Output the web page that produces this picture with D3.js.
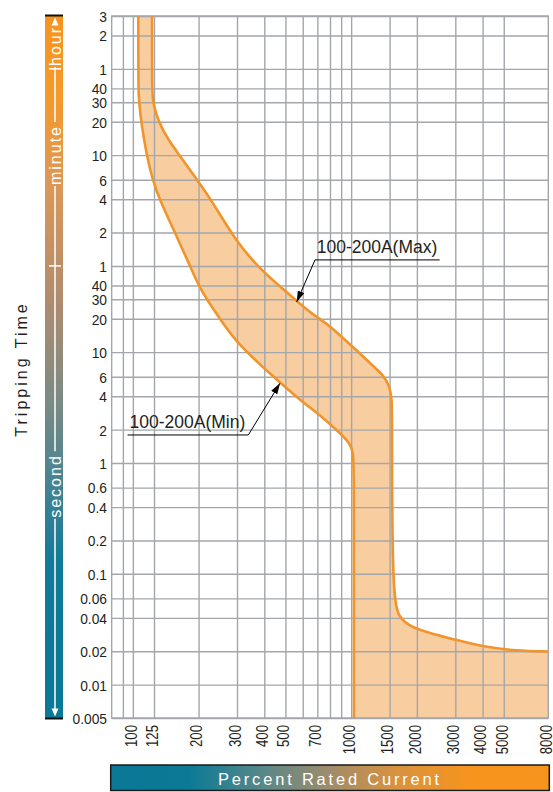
<!DOCTYPE html>
<html>
<head>
<meta charset="utf-8">
<script src="https://cdn.jsdelivr.net/npm/d3@7"></script>
<style>
    body { margin: 0; background: #fff; }
    svg { display: block; font-family: "Liberation Sans", Arial, sans-serif; }
</style>
</head>
<body>
<div class="trip-chart"></div>
<script>
// percent rated current (x) - labelled ticks and grid lines
var xTicks = [100, 125, 200, 300, 400, 500, 700, 1000, 1500, 2000, 3000, 4000, 5000, 8000];
var xGrid = [90, 100, 125, 200, 300, 400, 500, 600, 700, 800, 900, 1000, 1500, 2000, 3000, 4000, 5000];

// tripping time (y) in seconds, labels as printed on the chart
var yTickValues = [10800, 7200, 3600, 2400, 1800, 1200, 600, 360, 240, 120, 60,
    40, 30, 20, 10, 6, 4, 2, 1, 0.6, 0.4, 0.2, 0.1, 0.06, 0.04, 0.02, 0.01, 0.005];
var yTickLabels = ["3", "2", "1", "40", "30", "20", "10", "6", "4", "2", "1",
    "40", "30", "20", "10", "6", "4", "2", "1", "0.6", "0.4", "0.2", "0.1", "0.06", "0.04", "0.02", "0.01", "0.005"];

// hour / minute / second boundaries on the side bar
var unitBreaks = [3600, 60];
var unitNames = ["hour", "minute", "second"];

// [percent current, seconds]
var minCurve = [
    [105.9, 10800], [105.9, 2200], [107, 1787], [109, 1204], [115.8, 590], [123.3, 359],
    [132.2, 240], [156, 120], [182.7, 60], [200, 40], [218, 30], [250.7, 20],
    [300, 12], [440, 6], [583, 3.7], [720, 2.71], [889, 1.86], [988, 1.51], [1023, 1.22],
    [1030, 0.96], [1030, 0.005]
];
var maxCurve = [
    [122.4, 10800], [122.4, 2200], [123.7, 1777], [130.8, 1204], [145.3, 823], [164.4, 590],
    [196.7, 359], [228, 240], [300, 96], [400, 51.6], [500, 35.7], [600, 25.8], [700, 20.5],
    [800, 17.3], [1052, 10.5], [1220, 7.95], [1404, 6.23], [1506, 4.89], [1534, 3.7],
    [1540, 3.0], [1540, 0.058], [1674, 0.0383], [1996, 0.0311], [3041, 0.0253],
    [4016, 0.022], [5730, 0.0202], [8000, 0.0199]
];

var annotations = [
    {label: "100-200A(Max)", tip: [563, 28.4], elbow: [683, 68], side: "right"},
    {label: "100-200A(Min)", tip: [472, 5.24], elbow: [338, 1.79], side: "left"}
];

var W = 553, H = 792;
var margin = {top: 16, right: 4.7, bottom: 74, left: 111.7},
    width = W - margin.left - margin.right,
    height = H - margin.top - margin.bottom;

var gridColor = "#a3a7ab",
    curveColor = "#f0952c",
    fillColor = "#f8cd9f",
    textColor = "#231f20";

var svg = d3.select(".trip-chart").append("svg")
    .attr("width", W)
    .attr("height", H);

var defs = svg.append("defs");

var vgrad = defs.append("linearGradient").attr("id", "vgrad")
    .attr("x1", 0).attr("y1", 0).attr("x2", 0).attr("y2", 1);
[[0, "#f7941d"], [0.12, "#f49a2c"], [0.25, "#d9975a"], [0.4, "#b08c6e"],
    [0.55, "#7b8a84"], [0.66, "#4a8391"], [0.78, "#107a98"], [1, "#0a7896"]]
    .forEach(function (s) { vgrad.append("stop").attr("offset", s[0]).attr("stop-color", s[1]); });

var hgrad = defs.append("linearGradient").attr("id", "hgrad")
    .attr("x1", 0).attr("y1", 0).attr("x2", 1).attr("y2", 0);
[[0, "#0a7896"], [0.18, "#0c7a96"], [0.35, "#5a8888"], [0.5, "#a08c6a"],
    [0.65, "#d8923f"], [0.82, "#f7941d"], [1, "#f7941d"]]
    .forEach(function (s) { hgrad.append("stop").attr("offset", s[0]).attr("stop-color", s[1]); });

defs.append("marker").attr("id", "arrow")
    .attr("viewBox", "0 0 11 7").attr("refX", 11).attr("refY", 3.5)
    .attr("markerWidth", 11).attr("markerHeight", 7)
    .attr("markerUnits", "userSpaceOnUse").attr("orient", "auto")
    .append("path").attr("d", "M0,0L11,3.5L0,7Z").attr("fill", "#000");

var x = d3.scaleLog().domain([80, 8000]).range([0, width]);
var y = d3.scaleLog().domain([0.005, 10800]).range([height, 0]);

var g = svg.append("g")
    .attr("transform", "translate(" + margin.left + "," + margin.top + ")");

var line = d3.line()
    .x(function (d) { return x(d[0]); })
    .y(function (d) { return y(d[1]); })
    .curve(d3.curveBasis);

// band between the two curves, closed along the bottom and right edge
var last = maxCurve[maxCurve.length - 1];
var bandPath = line(minCurve) +
    "L" + x(last[0]) + "," + y(0.005) +
    line(maxCurve.slice().reverse()).replace(/^M/, "L") + "Z";

g.append("path")
    .attr("d", bandPath)
    .attr("fill", fillColor);

// grid
g.append("g")
    .attr("class", "grid-x")
    .attr("transform", "translate(0," + height + ")")
    .call(d3.axisBottom(x).tickValues(xGrid).tickSize(-height).tickFormat(""))
    .call(function (a) { a.select(".domain").remove(); })
    .selectAll("line").attr("stroke", gridColor).attr("stroke-width", 1.4);

var yAxis = g.append("g")
    .attr("class", "axis-y")
    .call(d3.axisLeft(y).tickValues(yTickValues)
        .tickFormat(function (d, i) { return yTickLabels[i]; })
        .tickSize(-width).tickPadding(5.1));
yAxis.select(".domain").remove();
yAxis.selectAll("line").attr("stroke", gridColor).attr("stroke-width", 1.4);
yAxis.selectAll("text")
    .attr("fill", textColor)
    .attr("font-size", 15)
    .attr("font-family", "Liberation Sans, Arial, sans-serif")
    .attr("dy", "0.36em")
    .attr("transform", "scale(0.92,1)");

g.append("rect")
    .attr("width", width).attr("height", height)
    .attr("fill", "none").attr("stroke", gridColor).attr("stroke-width", 1.4);

// curves
[minCurve, maxCurve].forEach(function (c) {
    g.append("path")
        .attr("d", line(c))
        .attr("fill", "none")
        .attr("stroke", curveColor)
        .attr("stroke-width", 2.6);
});

// x labels
var xAxis = g.append("g")
    .attr("class", "axis-x")
    .attr("transform", "translate(0," + height + ")")
    .call(d3.axisBottom(x).tickValues(xTicks).tickSize(0).tickFormat(d3.format("d")));
xAxis.select(".domain").remove();
xAxis.selectAll("text")
    .attr("fill", textColor)
    .attr("font-size", 16.5)
    .attr("font-family", "Liberation Sans, Arial, sans-serif")
    .attr("text-anchor", "end")
    .attr("x", 0).attr("y", 0).attr("dy", "0.2em")
    .attr("transform", "translate(0,7) rotate(-90) scale(0.8,1)");

// curve labels with leader arrows
annotations.forEach(function (a) {
    var ex = x(a.elbow[0]), ey = y(a.elbow[1]);
    var t = g.append("text")
        .attr("y", ey - 6.7)
        .attr("font-size", 17.5)
        .attr("fill", textColor)
        .text(a.label);
    var len = t.node().getComputedTextLength();
    var x0, x1;
    if (a.side === "right") {
        t.attr("x", ex + 1.7);
        x0 = ex; x1 = ex + len + 4;
    } else {
        t.attr("x", ex - len - 3).attr("text-anchor", "start");
        x0 = ex - len - 5; x1 = ex;
    }
    g.append("line")
        .attr("x1", x0).attr("x2", x1).attr("y1", ey).attr("y2", ey)
        .attr("stroke", "#000").attr("stroke-width", 1);
    g.append("line")
        .attr("x1", ex).attr("y1", ey)
        .attr("x2", x(a.tip[0])).attr("y2", y(a.tip[1]))
        .attr("stroke", "#000").attr("stroke-width", 1)
        .attr("marker-end", "url(#arrow)");
});

// side bar: time units
var barX = 45, barW = 18, barTop = margin.top, barBot = margin.top + height;
svg.append("rect")
    .attr("x", barX).attr("y", barTop).attr("width", barW).attr("height", barBot - barTop)
    .attr("fill", "url(#vgrad)");
svg.append("rect").attr("x", barX).attr("y", barTop - 1.5).attr("width", barW).attr("height", 2).attr("fill", "#111");
svg.append("rect").attr("x", barX).attr("y", barBot - 0.5).attr("width", barW).attr("height", 2).attr("fill", "#111");

var cx = barX + barW / 2 + 1;
var unitCenters = [46, 155, 486];
var gaps = [];
unitNames.forEach(function (n, i) {
    var t = svg.append("text")
        .attr("transform", "translate(" + (barX + 15.5) + "," + unitCenters[i] + ") rotate(-90)")
        .attr("text-anchor", "middle")
        .attr("font-size", 16)
        .attr("letter-spacing", 2)
        .attr("fill", "#fff")
        .text(n);
    var len = t.node().getComputedTextLength();
    gaps.push([unitCenters[i] - len / 2 - 3, unitCenters[i] + len / 2 + 1]);
});

var segs = [[barTop + 8, gaps[0][0]], [gaps[0][1], gaps[1][0]], [gaps[1][1], gaps[2][0]], [gaps[2][1], barBot - 8]];
segs.forEach(function (s) {
    svg.append("line")
        .attr("x1", cx).attr("x2", cx).attr("y1", s[0]).attr("y2", s[1])
        .attr("stroke", "#fff").attr("stroke-width", 1.5);
});
svg.append("path")
    .attr("d", "M" + cx + "," + (barTop + 1.5) + "l-3.5,8h7Z")
    .attr("fill", "#fff");
svg.append("path")
    .attr("d", "M" + cx + "," + (barBot - 1.5) + "l-3.5,-8h7Z")
    .attr("fill", "#fff");
unitBreaks.forEach(function (b) {
    svg.append("line")
        .attr("x1", cx - 6).attr("x2", cx + 6)
        .attr("y1", margin.top + y(b)).attr("y2", margin.top + y(b))
        .attr("stroke", "#fff").attr("stroke-width", 1.5);
});

svg.append("text")
    .attr("transform", "translate(27," + (margin.top + height / 2 + 2) + ") rotate(-90)")
    .attr("text-anchor", "middle")
    .attr("font-size", 16)
    .attr("letter-spacing", 3)
    .attr("fill", textColor)
    .text("Tripping Time");

// bottom bar
svg.append("rect")
    .attr("x", margin.left - 1).attr("y", 765)
    .attr("width", width + 2).attr("height", 25.5)
    .attr("fill", "url(#hgrad)")
    .attr("stroke", "#1a1a1a").attr("stroke-width", 1.5);
svg.append("text")
    .attr("x", margin.left + width / 2).attr("y", 784.5)
    .attr("text-anchor", "middle")
    .attr("font-size", 16.5)
    .attr("letter-spacing", 2.8)
    .attr("fill", "#fff")
    .text("Percent Rated Current");
</script>
</body>
</html>
